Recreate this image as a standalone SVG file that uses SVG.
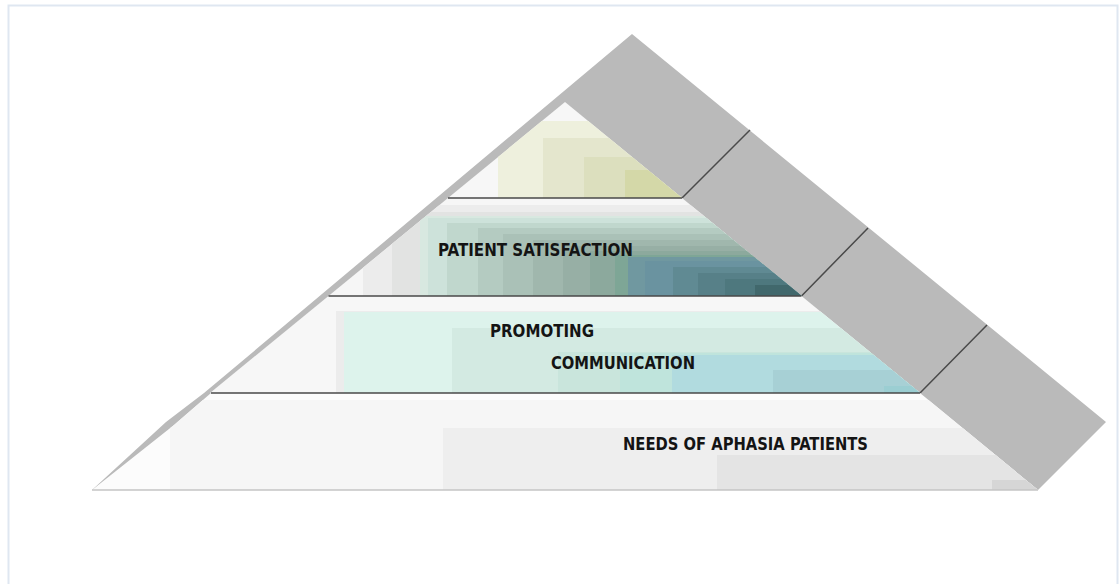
<svg xmlns="http://www.w3.org/2000/svg" width="1120" height="584" viewBox="0 0 1120 584">
<style>
.lbl{font-family:"DejaVu Sans Condensed","DejaVu Sans",sans-serif;font-weight:bold;font-size:17px;fill:#141414}
.sep{stroke:#4a4a4a;stroke-width:1.5;fill:none}
.band{fill:#bababa}
</style>
<defs>
<clipPath id="c1"><polygon points="565,102 682,198 448,198"/></clipPath>
<clipPath id="c2"><polygon points="448,198 682,198 801.5,296 328.5,296"/></clipPath>
<clipPath id="c3"><polygon points="328.5,296 801.5,296 920,393 210,393"/></clipPath>
<clipPath id="c4"><polygon points="211,393 920,393 1038,490 92,490 174,425"/></clipPath>
</defs>
<rect x="0" y="0" width="1120" height="584" fill="#ffffff"/>
<rect x="8.5" y="5.5" width="1109" height="600" fill="none" stroke="#dfe7f1" stroke-width="2"/>

<g id="pyramid-side">
<polygon class="band" points="632,34 1106,422 1038,490 92,490 166,422 204,393"/>
<path class="sep" d="M682,198 L750,130 M801.5,296 L868,228 M920,393 L987,325"/>
</g>

<g id="layer-top" clip-path="url(#c1)">
<rect x="440" y="100" width="250" height="100" fill="#f7f7f7"/>
<rect x="498" y="121" width="200" height="80" fill="#eef0dd"/>
<rect x="543" y="138" width="160" height="62" fill="#e4e6cd"/>
<rect x="584" y="157" width="120" height="42" fill="#dcdfbe"/>
<rect x="625" y="170" width="80" height="30" fill="#d4d8a8"/>
</g>

<g id="layer-patient-satisfaction">
<g clip-path="url(#c2)">
<rect x="320" y="196" width="490" height="102" fill="#f6f6f6"/>
<rect x="363" y="205" width="450" height="95" fill="#ececec"/>
<rect x="392" y="212" width="420" height="90" fill="#e2e3e2"/>
<rect x="420" y="216" width="400" height="90" fill="#d8e8e0"/>
<rect x="428" y="218" width="400" height="90" fill="#cde2da"/>
<rect x="447" y="223" width="400" height="90" fill="#c0d7cd"/>
<rect x="478" y="228" width="400" height="90" fill="#b4cbc1"/>
<rect x="503" y="234" width="400" height="90" fill="#aac1b7"/>
<rect x="533" y="240" width="400" height="90" fill="#a0b7ad"/>
<rect x="563" y="246" width="400" height="90" fill="#97afa5"/>
<rect x="590" y="251" width="400" height="90" fill="#8ca99d"/>
<rect x="615" y="255" width="400" height="90" fill="#7ea696"/>
<rect x="628" y="257" width="400" height="90" fill="#7098a0"/>
<rect x="645" y="261" width="400" height="90" fill="#6a93a0"/>
<rect x="673" y="267" width="400" height="90" fill="#608a93"/>
<rect x="698" y="273" width="400" height="90" fill="#578088"/>
<rect x="725" y="279" width="400" height="90" fill="#4e787e"/>
<rect x="755" y="285" width="400" height="90" fill="#41686c"/>
</g>
<text class="lbl" x="438" y="256" textLength="195" lengthAdjust="spacingAndGlyphs">PATIENT SATISFACTION</text>
</g>

<g id="layer-promoting-communication">
<g clip-path="url(#c3)">
<rect x="200" y="294" width="730" height="102" fill="#f7f7f7"/>
<rect x="336" y="311" width="600" height="90" fill="#ececec"/>
<rect x="344" y="312" width="600" height="90" fill="#ddf3ec"/>
<rect x="452" y="328" width="600" height="90" fill="#d3eae2"/>
<rect x="558" y="352" width="600" height="90" fill="#c9e5dc"/>
<rect x="620" y="353" width="600" height="90" fill="#bfe4dc"/>
<rect x="672" y="355" width="600" height="90" fill="#b1dbdf"/>
<rect x="773" y="370" width="600" height="90" fill="#a7d0d5"/>
<rect x="884" y="386" width="600" height="90" fill="#9bced2"/>
</g>
<text class="lbl" x="490" y="337" textLength="104" lengthAdjust="spacingAndGlyphs">PROMOTING</text>
<text class="lbl" x="551" y="369" textLength="144" lengthAdjust="spacingAndGlyphs">COMMUNICATION</text>
</g>

<g id="layer-needs">
<g clip-path="url(#c4)">
<rect x="85" y="391" width="960" height="102" fill="#fcfcfc"/>
<rect x="170" y="400" width="900" height="95" fill="#f6f6f6"/>
<rect x="443" y="428" width="700" height="70" fill="#eeeeee"/>
<rect x="717" y="455" width="400" height="40" fill="#e4e4e4"/>
<rect x="992" y="480" width="100" height="15" fill="#d6d6d6"/>
</g>
<text class="lbl" x="623" y="450" textLength="245" lengthAdjust="spacingAndGlyphs">NEEDS OF APHASIA PATIENTS</text>
</g>

<g id="layer-lines">
<path class="sep" d="M448,198 H682 M328.5,296 H801.5 M211,393 H920"/>
<path d="M92,490 H1038" stroke="#c4c4c4" stroke-width="1.5" fill="none"/>
</g>
</svg>
